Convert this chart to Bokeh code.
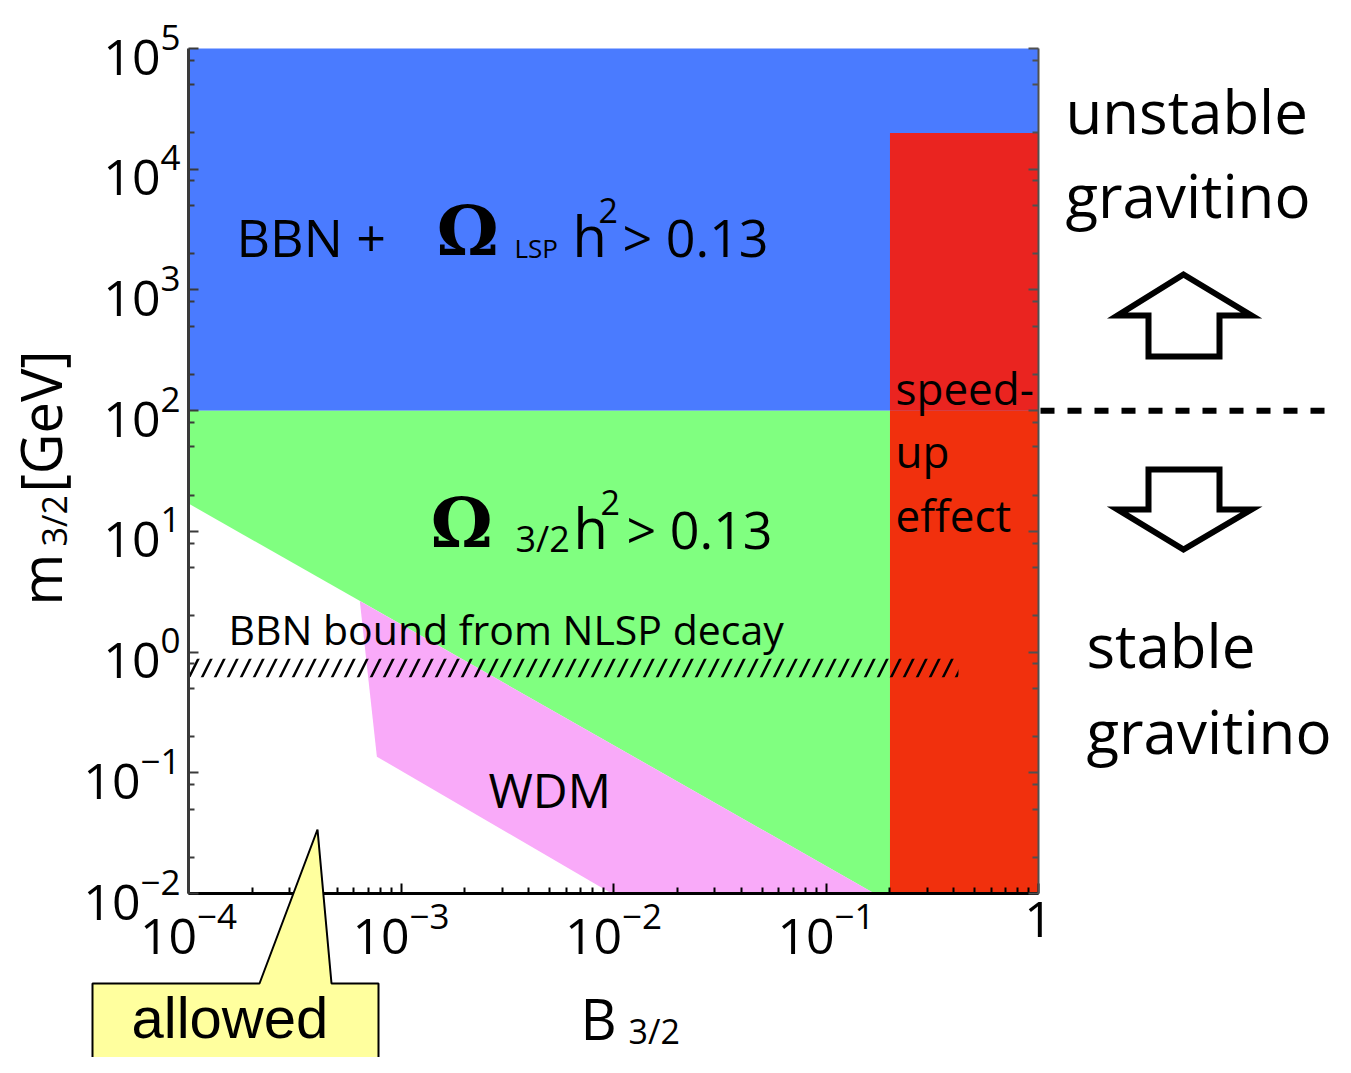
import math
from bokeh.plotting import figure
from bokeh.models import Label, PolyAnnotation, Arrow, LogAxis, FixedTicker, Range1d
from bokeh.embed import file_html
from bokeh.resources import INLINE

# ---------------- data ----------------
B_RANGE = [1e-4, 1.0]                 # B_3/2 axis
M_RANGE = [1e-2, 1e5]                 # m_3/2 [GeV] axis
B_MAJOR_TICKS = [1e-4, 1e-3, 1e-2, 1e-1, 1.0]
M_MAJOR_TICKS = [1e-2, 1e-1, 1.0, 1e1, 1e2, 1e3, 1e4, 1e5]
B_MINOR_MULT = [2, 3, 4, 5, 6, 7, 8, 9]
M_MINOR_MULT = [2, 5, 8]

STABLE_M = 100.0                      # unstable / stable gravitino boundary

BBN_LSP_B = [1e-4, 1.0]               # blue: BBN + Omega_LSP h^2 > 0.13
BBN_LSP_M = [100.0, 1e5]

OMEGA_B = [1e-4, 0.2, 0.2, 0.169, 1e-4]       # green: Omega_3/2 h^2 > 0.13
OMEGA_M = [100.0, 100.0, 0.01, 0.01, 17.0]

WDM_B = [6.4e-4, 7.7e-4, 9.8e-3, 0.169]       # pink: WDM
WDM_M = [2.65, 0.136, 0.01, 0.01]

SPEEDUP_B = [0.2, 1.0]                        # red: speed-up effect
SPEEDUP_M_UPPER = [100.0, 2e4]
SPEEDUP_M_LOWER = [0.01, 100.0]

NLSP_B = [1e-4, 0.42]                         # hatched: BBN bound from NLSP decay
NLSP_M = [0.62, 0.88]

BLUE = "#4A7BFF"
GREEN = "#80FF80"
PINK = "#F9AAF9"
RED_UP = "#EA2420"
RED_LOW = "#F1300D"
YELLOW = "#FFFF9E"

FONT = "Open Sans"
SERIF = "DejaVu Serif"

# ------------- geometry (page pixels) -------------
W, H = 1335, 1057
FX0, FX1, FY0, FY1 = 188, 1038, 48, 893   # where the axes box sits


def bx(px):
    return 10 ** (math.log10(B_RANGE[0]) + (px - FX0) / (FX1 - FX0) *
                  (math.log10(B_RANGE[1]) - math.log10(B_RANGE[0])))


def my(py):
    return 10 ** (math.log10(M_RANGE[1]) - (py - FY0) / (FY1 - FY0) *
                  (math.log10(M_RANGE[1]) - math.log10(M_RANGE[0])))


p = figure(width=W, height=H, x_axis_type="log", y_axis_type="log",
           x_axis_location=None, y_axis_location=None,
           x_range=Range1d(bx(0), bx(W)), y_range=Range1d(my(H), my(0)),
           output_backend="svg", toolbar_location=None, min_border=0)
p.grid.visible = False
p.outline_line_color = None
p.background_fill_color = "white"
p.border_fill_color = "white"

# regions
p.quad(left=BBN_LSP_B[0], right=BBN_LSP_B[1], bottom=BBN_LSP_M[0], top=BBN_LSP_M[1],
       fill_color=BLUE, line_color=None)
p.patch(OMEGA_B, OMEGA_M, fill_color=GREEN, line_color=None)
p.patch(WDM_B, WDM_M, fill_color=PINK, line_color=None)
p.quad(left=SPEEDUP_B[0], right=SPEEDUP_B[1], bottom=SPEEDUP_M_UPPER[0], top=SPEEDUP_M_UPPER[1],
       fill_color=RED_UP, line_color=None)
p.quad(left=SPEEDUP_B[0], right=SPEEDUP_B[1], bottom=SPEEDUP_M_LOWER[0], top=SPEEDUP_M_LOWER[1],
       fill_color=RED_LOW, line_color=None)
p.quad(left=NLSP_B[0], right=NLSP_B[1], bottom=NLSP_M[0], top=NLSP_M[1],
       fill_alpha=0, line_color=None, hatch_pattern="/", hatch_color="black",
       hatch_weight=2.5, hatch_scale=26)

# axes (fixed to the edges of the axes box)
b_minor = [k * t for t in B_MAJOR_TICKS[:-1] for k in B_MINOR_MULT]
m_minor = [k * t for t in M_MAJOR_TICKS[:-1] for k in M_MINOR_MULT]


def make_axis(ticks, minor, loc, bounds, line_color, line_width, labels=True):
    ax = LogAxis(ticker=FixedTicker(ticks=ticks, minor_ticks=minor),
                 fixed_location=loc, bounds=bounds,
                 major_tick_in=10, major_tick_out=0, minor_tick_in=6, minor_tick_out=0,
                 axis_line_color=line_color, axis_line_width=line_width,
                 major_tick_line_width=2, minor_tick_line_width=2,
                 major_tick_line_color=line_color, minor_tick_line_color=line_color,
                 major_label_text_font=FONT, major_label_text_font_size="50px",
                 major_label_text_color="black", major_label_standoff=8)
    if not labels:
        ax.major_label_text_alpha = 0
    return ax


xa = make_axis(B_MAJOR_TICKS, b_minor, M_RANGE[0], tuple(B_RANGE), "black", 3)
xa.major_label_overrides = {1: "1"}
ya = make_axis(M_MAJOR_TICKS, m_minor, B_RANGE[0], tuple(M_RANGE), "#3a3a3a", 3)
ra = make_axis(M_MAJOR_TICKS, m_minor, B_RANGE[1], tuple(M_RANGE), "#505050", 2, labels=False)
p.add_layout(xa, "below")
p.add_layout(ya, "left")
p.add_layout(ra, "right")

SHIFT = 0.4   # renderer places alphabetic baseline ~0.4 em low; compensate


def lab(px, py, text, size, font=FONT, style="normal", angle=0.0):
    if angle:
        px = px - SHIFT * size
    else:
        py = py - SHIFT * size
    p.add_layout(Label(x=bx(px), y=my(py), text=text, text_font=font,
                       text_font_size=f"{size}px", text_font_style=style,
                       text_color="black", text_align="left",
                       text_baseline="alphabetic", angle=angle))


# texts in the regions
lab(236, 257, "BBN +", 52)
lab(436, 258, "\u03A9", 70, SERIF, "bold")
lab(514, 258, "LSP", 26)
lab(572, 257, "h", 56)
lab(598, 224, "2", 34)
lab(622, 257, "> 0.13", 52)

lab(430, 550, "\u03A9", 70, SERIF, "bold")
lab(515, 552, "3/2", 36)
lab(573, 549, "h", 56)
lab(600, 516, "2", 34)
lab(626, 549, "> 0.13", 52)

lab(228, 645, "BBN bound from NLSP decay", 41)
lab(488, 808, "WDM", 48)
lab(895, 405, "speed-", 44)
lab(895, 468, "up", 44)
lab(895, 532, "effect", 44)

# right-hand side annotations
lab(1065, 134, "unstable", 60)
lab(1065, 218, "gravitino", 60)
lab(1086, 668, "stable", 60)
lab(1086, 754, "gravitino", 60)

p.add_layout(Arrow(end=None, x_start=bx(1040), y_start=STABLE_M, x_end=bx(1326),
                   y_end=STABLE_M, line_width=6, line_dash="14 13", line_color="black"))

up_px = [1183, 1251, 1219, 1219, 1148, 1148, 1117]
up_py = [274, 315, 315, 356, 356, 315, 315]
dn_px = [1148, 1219, 1219, 1251, 1183, 1117, 1148]
dn_py = [469, 469, 509, 509, 549, 509, 509]
for xs_px, ys_px in ((up_px, up_py), (dn_px, dn_py)):
    p.add_layout(PolyAnnotation(xs=[bx(v) for v in xs_px], ys=[my(v) for v in ys_px],
                                fill_color="white", fill_alpha=1.0, line_color="black",
                                line_alpha=1.0, line_width=6, line_join="miter"))

# axis titles
lab(62, 605, "m", 56, angle=math.pi / 2)
lab(67, 546, "3/2", 34, angle=math.pi / 2)
lab(62, 492, "[GeV]", 56, angle=math.pi / 2)
lab(580, 1040, "B", 56)
lab(628, 1044, "3/2", 34)

# "allowed" call-out
co_px = [92, 259, 317, 331, 378, 378, 92]
co_py = [983, 983, 829, 983, 983, 1090, 1090]
p.add_layout(PolyAnnotation(xs=[bx(v) for v in co_px], ys=[my(v) for v in co_py],
                            fill_color=YELLOW, fill_alpha=1.0, line_color="black",
                            line_alpha=1.0, line_width=2))
lab(131, 1040, "allowed", 58, font="Liberation Sans")

open("out.html", "w").write(file_html(p, INLINE))
